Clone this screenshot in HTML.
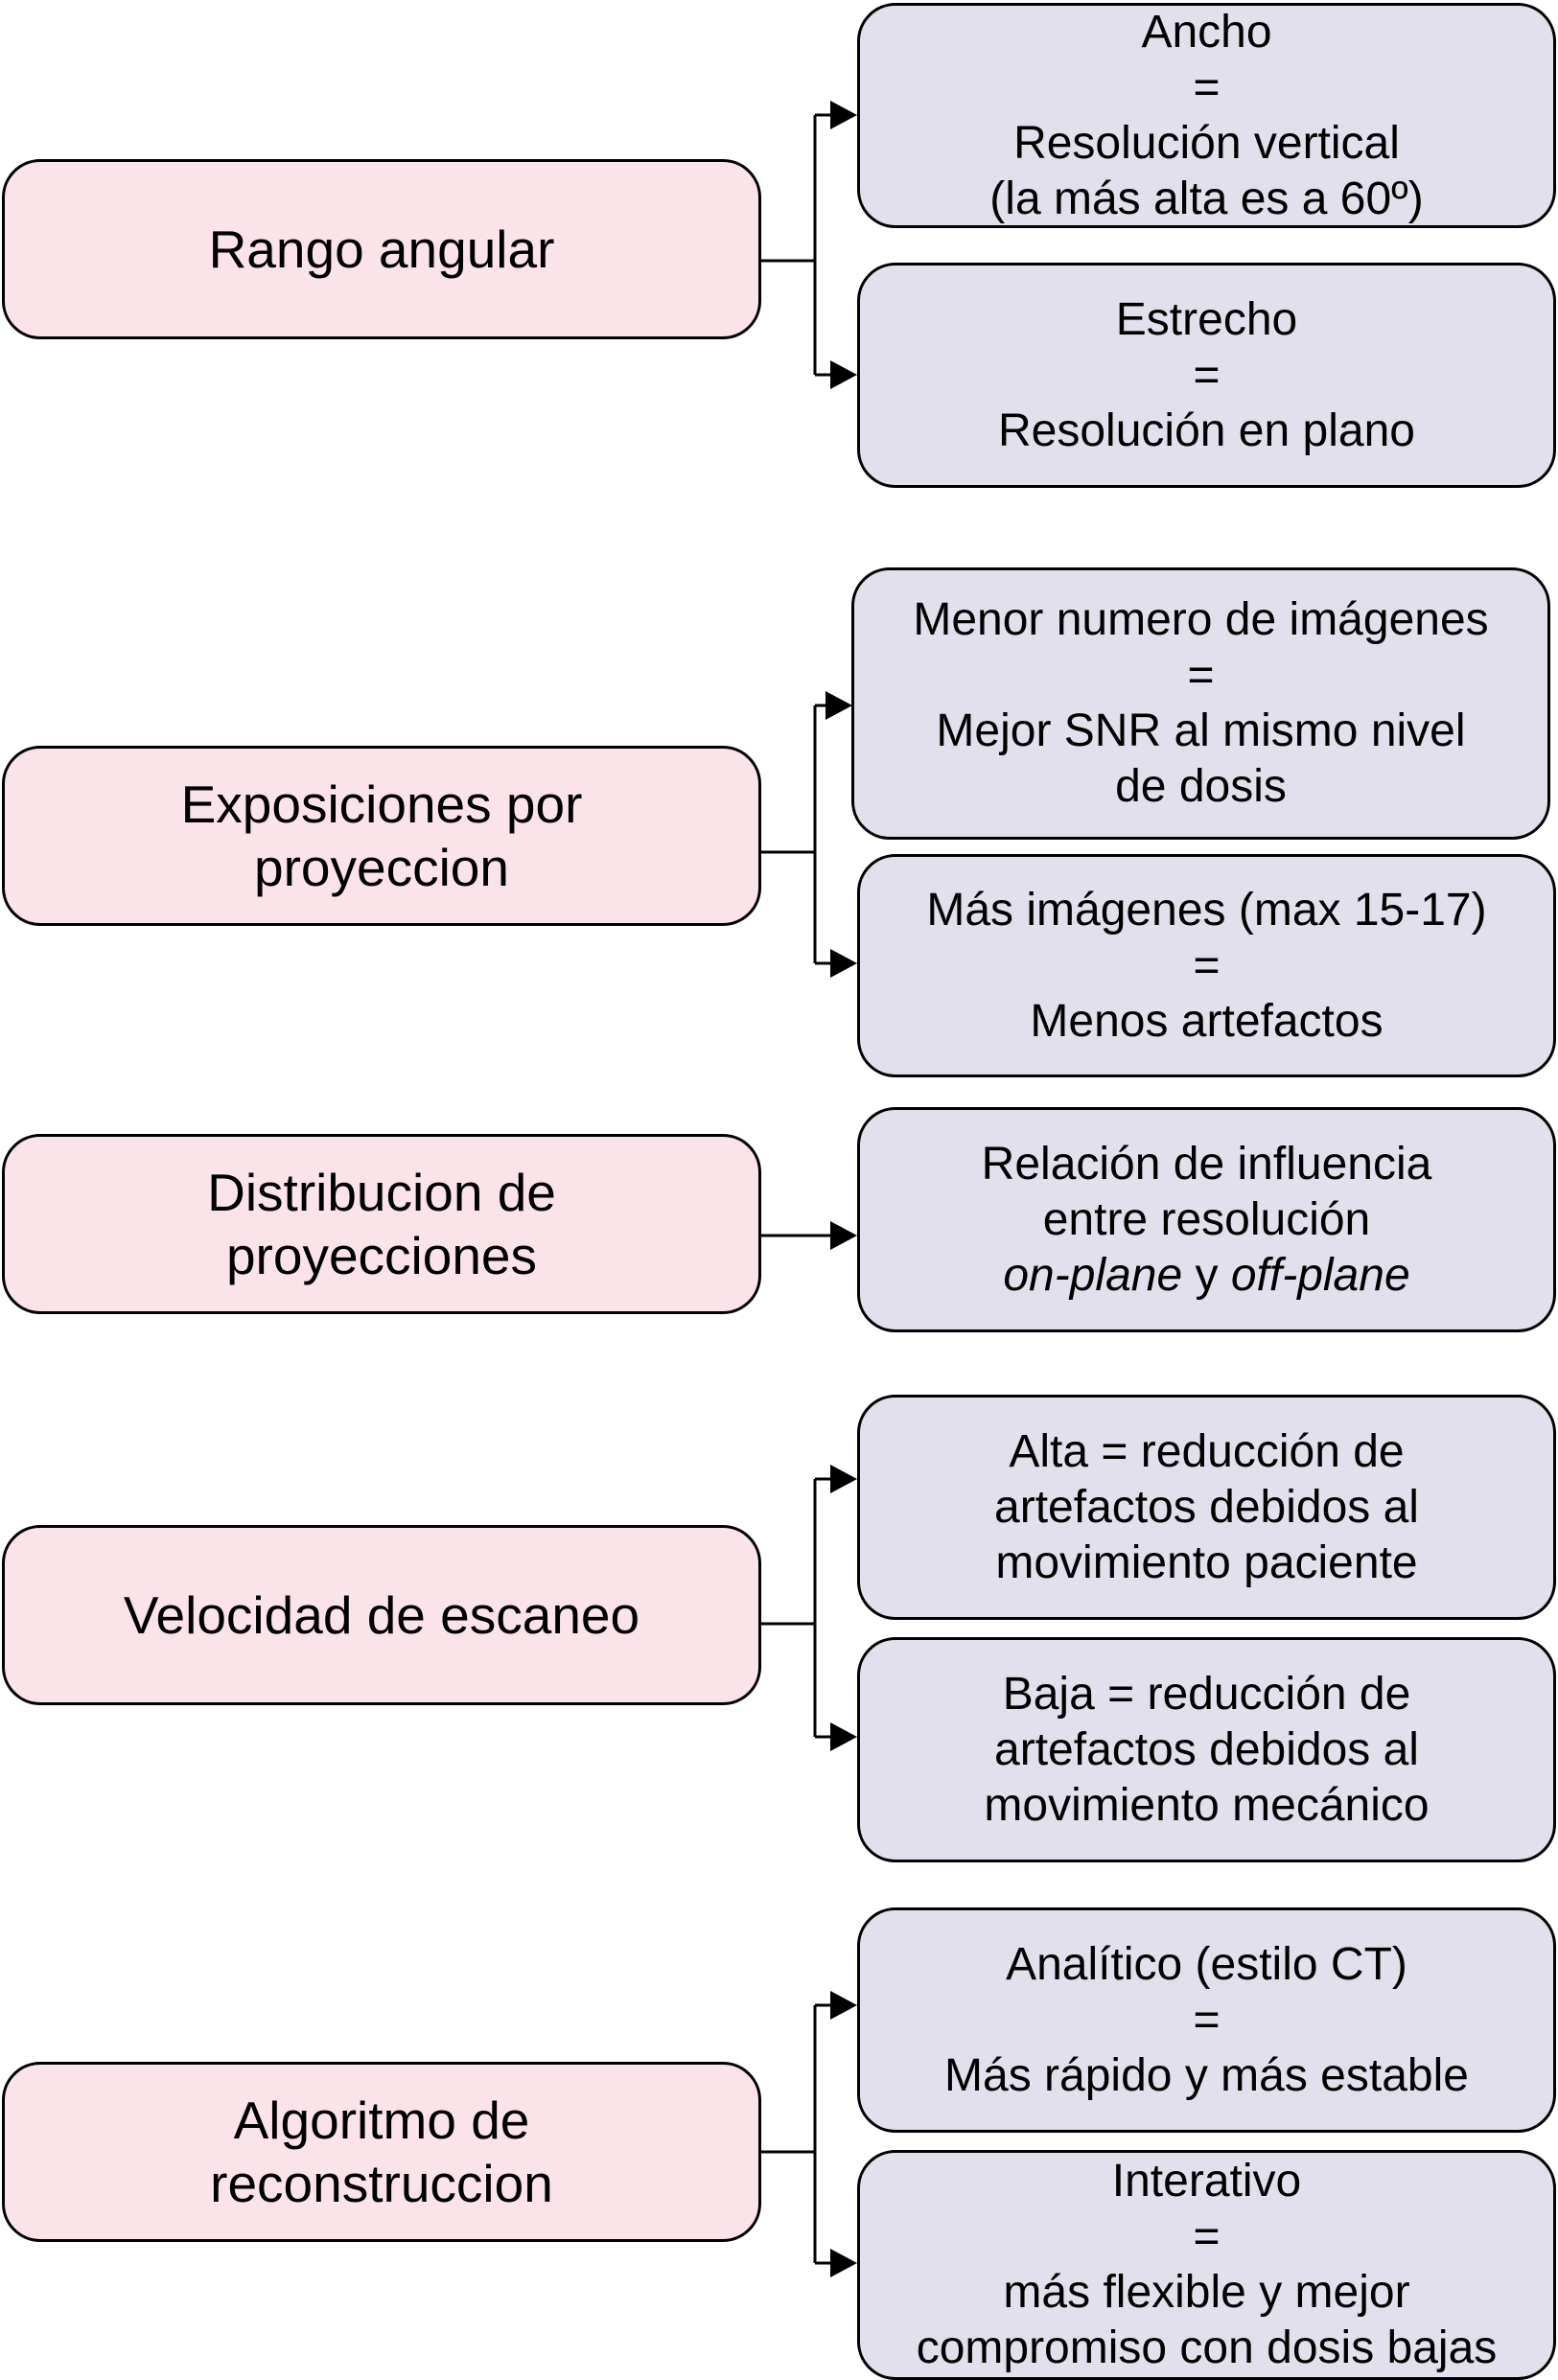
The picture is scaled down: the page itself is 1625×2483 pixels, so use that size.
<!DOCTYPE html>
<html><head><meta charset="utf-8"><style>
html,body{margin:0;padding:0;background:#fff;}
body{width:1625px;height:2481px;position:relative;overflow:hidden;font-family:"Liberation Sans",Arial,sans-serif;color:#000;}
.b{position:absolute;box-sizing:border-box;border:3px solid #000;border-radius:40px;display:flex;align-items:center;justify-content:center;text-align:center;}
.p{background:#fbe3ea;left:2px;width:792px;height:188px;font-size:55px;line-height:66px;}
.r{background:#e1e0ec;left:894px;width:729px;font-size:48px;line-height:58px;}
svg{position:absolute;left:0;top:0;}
</style></head><body>
<svg width="1625" height="2481">
<g stroke="#000" stroke-width="3" fill="none">
<path d="M793 272H850M850 120V391M850 120H870M850 391H870"/>
<path d="M793 889H850M850 736V1005M850 736H866M850 1005H870"/>
<path d="M793 1289H870"/>
<path d="M793 1694H850M850 1543V1812M850 1543H870M850 1812H870"/>
<path d="M793 2245H850M850 2092V2361M850 2092H870M850 2361H870"/>
</g>
<g fill="#000">
<polygon points="866,105 894,120 866,135"/>
<polygon points="866,376 894,391 866,406"/>
<polygon points="861,721 889,736 861,751"/>
<polygon points="866,990 894,1005 866,1020"/>
<polygon points="866,1274 894,1289 866,1304"/>
<polygon points="866,1528 894,1543 866,1558"/>
<polygon points="866,1797 894,1812 866,1827"/>
<polygon points="866,2077 894,2092 866,2107"/>
<polygon points="866,2346 894,2361 866,2376"/>
</g>
</svg>
<div class="b p" style="top:166px"><div>Rango angular</div></div>
<div class="b p" style="top:778px"><div>Exposiciones por<br>proyeccion</div></div>
<div class="b p" style="top:1183px"><div>Distribucion de<br>proyecciones</div></div>
<div class="b p" style="top:1591px"><div>Velocidad de escaneo</div></div>
<div class="b p" style="top:2151px"><div>Algoritmo de<br>reconstruccion</div></div>

<div class="b r" style="top:3px;height:235px"><div>Ancho<br>=<br>Resolución vertical<br>(la más alta es a 60º)</div></div>
<div class="b r" style="top:274px;height:235px"><div>Estrecho<br>=<br>Resolución en plano</div></div>
<div class="b r" style="top:592px;height:284px;left:888px"><div>Menor numero de imágenes<br>=<br>Mejor SNR al mismo nivel<br>de dosis</div></div>
<div class="b r" style="top:891px;height:233px"><div>Más imágenes (max 15-17)<br>=<br>Menos artefactos</div></div>
<div class="b r" style="top:1155px;height:235px"><div>Relación de influencia<br>entre resolución<br><i>on-plane</i> y <i>off-plane</i></div></div>
<div class="b r" style="top:1455px;height:235px"><div>Alta = reducción de<br>artefactos debidos al<br>movimiento paciente</div></div>
<div class="b r" style="top:1708px;height:235px"><div>Baja = reducción de<br>artefactos debidos al<br>movimiento mecánico</div></div>
<div class="b r" style="top:1990px;height:235px"><div>Analítico (estilo CT)<br>=<br>Más rápido y más estable</div></div>
<div class="b r" style="top:2243px;height:240px"><div>Interativo<br>=<br>más flexible y mejor<br>compromiso con dosis bajas</div></div>
</body></html>
